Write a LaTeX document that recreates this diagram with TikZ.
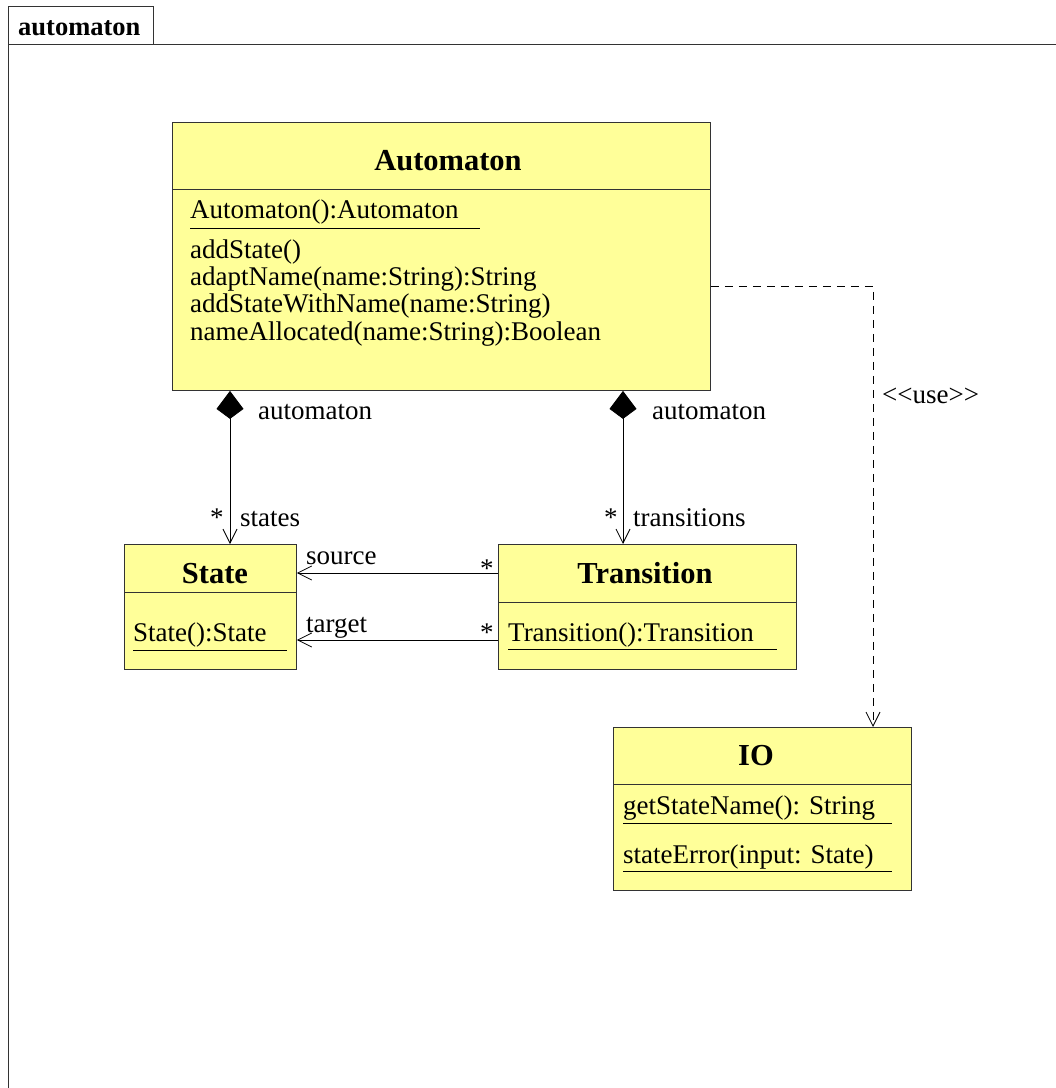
\documentclass[tikz,border=0pt]{standalone}
\usepackage{fontspec}
\setmainfont{Liberation Serif}
\usetikzlibrary{arrows.meta}
\definecolor{classfill}{HTML}{FFFF99}
\definecolor{edgegray}{HTML}{333333}

\begin{document}
\begin{tikzpicture}[x=1pt,y=-1pt,
  txt/.style={font=\fontsize{27}{28}\selectfont, inner sep=0pt, anchor=base west},
  ttl/.style={font=\fontsize{30.5}{32}\selectfont\bfseries, inner sep=0pt, anchor=base},
  classbox/.style={draw=edgegray, fill=classfill, line width=0.9pt, anchor=north west, inner sep=0pt},
  sepline/.style={draw=edgegray, line width=0.9pt},
  uline/.style={draw=black, line width=0.8pt},
  frameline/.style={draw=edgegray, line width=0.9pt},
  opentip/.tip={Straight Barb[length=14pt,width=14pt]},
  assoc/.style={draw=black, line width=0.8pt, -opentip},
  comp/.style={draw=black, line width=0.8pt, {Kite[length=28pt,width=27pt,inset=10pt]}-opentip},
  dep/.style={draw=black, line width=0.8pt, dash pattern=on 8pt off 6pt, -opentip},
]
\useasboundingbox (0,0) rectangle (1056,1088);
\fill[white] (0,0) rectangle (1056,1088);

% package frame with its name tab
\draw[frameline] (8,44) -- (1056,44);
\draw[frameline] (8,44) -- (8,1088);
\node[draw=edgegray, line width=0.9pt, anchor=north west, minimum width=145pt, minimum height=38pt, inner sep=0pt] (tab) at (8,6) {};
\node[font=\fontsize{26.5}{28}\selectfont\bfseries, inner sep=0pt, anchor=base west] (tabname) at (18,35) {automaton};

% class Automaton
\node[classbox, minimum width=538pt, minimum height=268pt] (auto) at (172,122) {};
\draw[sepline] (auto.west |- 0,189) -- (auto.east |- 0,189);
\node[ttl] (autoT) at (448,170) {Automaton};
\node[txt] (autoC) at (190,218) {Automaton():Automaton};
\draw[uline] (190,228) -- (480,228);
\node[txt] (autoM1) at (190,258) {addState()};
\node[txt] (autoM2) at (190,285) {adaptName(name:String):String};
\node[txt] (autoM3) at (190,312) {addStateWithName(name:String)};
\node[txt] (autoM4) at (190,340) {nameAllocated(name:String):Boolean};

% class State
\node[classbox, minimum width=172pt, minimum height=125pt] (state) at (124,544) {};
\draw[sepline] (state.west |- 0,592) -- (state.east |- 0,592);
\node[ttl] (stateT) at (215,583) {State};
\node[txt] (stateC) at (133,641) {State():State};
\draw[uline] (133,650) -- (287,650);

% class Transition
\node[classbox, minimum width=298pt, minimum height=125pt] (trans) at (498,544) {};
\draw[sepline] (trans.west |- 0,602) -- (trans.east |- 0,602);
\node[ttl] (transT) at (645,583) {Transition};
\node[txt] (transC) at (508,641) {Transition():Transition};
\draw[uline] (508,649) -- (777,649);

% class IO
\node[classbox, minimum width=298pt, minimum height=163pt] (io) at (613,727) {};
\draw[sepline] (io.west |- 0,784) -- (io.east |- 0,784);
\node[ttl] (ioT) at (756,765) {IO};
\node[txt] (ioM1) at (623,814) {getStateName(): String};
\draw[uline] (623,823) -- (892,823);
\node[txt] (ioM2) at (623,863) {stateError(input: State)};
\draw[uline] (623,871) -- (892,871);

% connector positions
\coordinate (c1) at (230,0);
\coordinate (c2) at (623,0);
\coordinate (s1) at (0,573);
\coordinate (s2) at (0,640);
\coordinate (d1) at (0,286);
\coordinate (d2) at (873,0);

% compositions
\draw[comp] (auto.south -| c1) -- (state.north -| c1);
\draw[comp] (auto.south -| c2) -- (trans.north -| c2);
% associations
\draw[assoc] (trans.west |- s1) -- (state.east |- s1);
\draw[assoc] (trans.west |- s2) -- (state.east |- s2);
% dependency
\draw[dep] (auto.east |- d1) -| (io.north -| d2);

% role names and multiplicities
\node[txt] (role1) at (258,419) {automaton};
\node[txt] (role2) at (652,419) {automaton};
\node[txt] (mult1) at (210,526) {*};
\node[txt] (role3) at (240,526) {states};
\node[txt] (mult2) at (604,526) {*};
\node[txt] (role4) at (633,526) {transitions};
\node[txt] (role5) at (306,564) {source};
\node[txt] (mult3) at (480,577) {*};
\node[txt] (role6) at (306,632) {target};
\node[txt] (mult4) at (480,641) {*};
\node[txt] (stereo) at (882,403) {<\kern0pt<use>\kern0pt>};
\end{tikzpicture}
\end{document}
